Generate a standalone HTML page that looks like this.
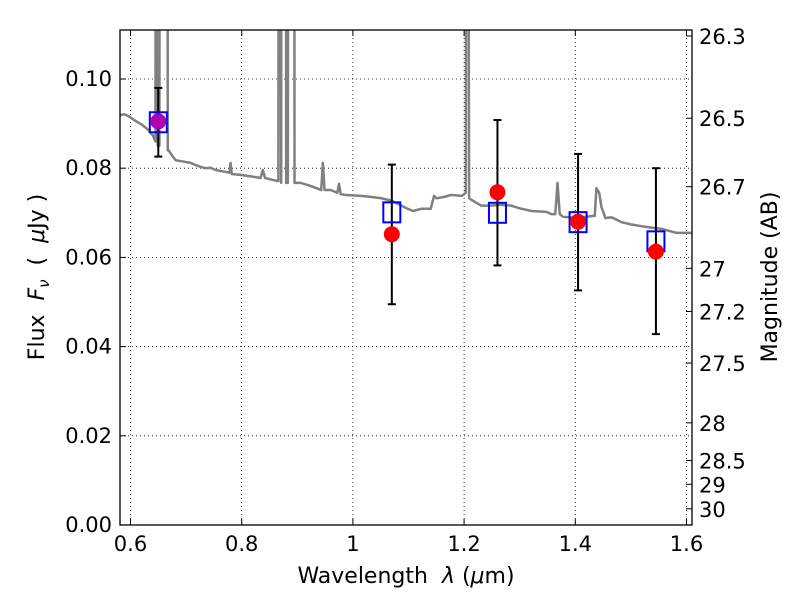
<!DOCTYPE html>
<html><head><meta charset="utf-8"><style>
body{margin:0;background:#fff;}
svg text{font-family:"DejaVu Sans","Liberation Sans",sans-serif;fill:#000;white-space:pre;}
</style></head><body>
<svg id="chart" width="800" height="600" xmlns="http://www.w3.org/2000/svg">
<rect x="0" y="0" width="800" height="600" fill="#fff"/>
<defs><clipPath id="clip"><rect x="120" y="30" width="572" height="495"/></clipPath></defs>
<g id="grid"></g>
<g id="plot" clip-path="url(#clip)"></g>
<g id="marks"></g>
<rect x="120" y="30" width="572" height="495" fill="none" stroke="#000" stroke-width="1.3"/>
<g id="axes"></g>
<text x="406" y="583" font-size="22" text-anchor="middle" xml:space="preserve">Wavelength  <tspan font-style="italic">λ</tspan> (<tspan font-style="italic">μ</tspan>m)</text>
<text transform="translate(44,277) rotate(-90)" font-size="22" text-anchor="middle" xml:space="preserve">Flux  <tspan font-style="italic">F</tspan><tspan font-style="italic" font-size="15" dy="5">ν</tspan><tspan dy="-5">  (  </tspan><tspan font-style="italic">μ</tspan>Jy )</text>
<text transform="translate(777,277) rotate(-90)" font-size="22" text-anchor="middle">Magnitude (AB)</text>
</svg>
<script>
const xTicks=[0.6,0.8,1.0,1.2,1.4,1.6];
const xTickLabels=["0.6","0.8","1","1.2","1.4","1.6"];
const yTicks=[0,0.02,0.04,0.06,0.08,0.10];
const yTickLabels=["0.00","0.02","0.04","0.06","0.08","0.10"];
const magTicks=[26.3,26.5,26.7,27,27.2,27.5,28,28.5,29,30];
const magLabels=["26.3","26.5","26.7","27","27.2","27.5","28","28.5","29","30"];
const specWave=[0.582,0.589,0.596,0.602,0.609,0.620,0.632,0.640,0.645,0.6455,0.648,0.649,0.652,0.653,0.666,0.667,0.668,0.675,0.681,0.690,0.699,0.708,0.717,0.726,0.735,0.744,0.753,0.765,0.778,0.780,0.782,0.798,0.815,0.834,0.838,0.842,0.855,0.866,0.867,0.8675,0.871,0.872,0.879,0.880,0.883,0.884,0.894,0.895,0.899,0.900,0.906,0.920,0.933,0.943,0.946,0.949,0.960,0.972,0.975,0.978,0.987,1.000,1.014,1.030,1.050,1.070,1.086,1.097,1.108,1.123,1.140,1.146,1.150,1.153,1.165,1.177,1.196,1.203,1.205,1.209,1.212,1.231,1.249,1.265,1.285,1.300,1.321,1.348,1.357,1.364,1.368,1.372,1.378,1.390,1.402,1.432,1.435,1.438,1.443,1.447,1.451,1.454,1.465,1.483,1.500,1.519,1.535,1.555,1.582,1.612];
const specFlux=[0.0919,0.0921,0.0917,0.0912,0.0906,0.0898,0.0886,0.0874,0.086,0.3,0.3,0.085,0.085,0.3,0.3,0.084,0.0841,0.0828,0.0818,0.0816,0.0814,0.0812,0.0807,0.0803,0.0800,0.0801,0.0796,0.0793,0.0790,0.0812,0.0787,0.0785,0.0782,0.0778,0.0796,0.0778,0.0774,0.0771,0.3,0.3,0.0767,0.3,0.3,0.0767,0.0767,0.3,0.3,0.0767,0.0767,0.0767,0.0767,0.0762,0.0756,0.0751,0.0812,0.0751,0.0751,0.0745,0.0765,0.0742,0.0740,0.0739,0.0738,0.0736,0.0733,0.0727,0.0717,0.0710,0.0704,0.0709,0.0709,0.0738,0.0733,0.0733,0.0736,0.0740,0.0738,0.0745,0.3,0.0733,0.0730,0.0716,0.0716,0.0718,0.0716,0.0710,0.0704,0.0702,0.0697,0.0697,0.0767,0.0697,0.0691,0.0690,0.0688,0.0693,0.0693,0.0755,0.0745,0.0713,0.0700,0.0688,0.0690,0.0679,0.0674,0.0670,0.0667,0.0664,0.0655,0.0655];
const photWave=[0.65,1.07,1.26,1.405,1.545];
const photFlux=[0.0905,0.0652,0.0746,0.0680,0.0613];
const errLow=[0.0826,0.0495,0.0582,0.0526,0.0428];
const errHigh=[0.0980,0.0808,0.0908,0.0832,0.0800];
const modelFlux=[0.0903,0.0701,0.0700,0.0679,0.0636];

const NS="http://www.w3.org/2000/svg";
const X=v=>130.5+(v-0.6)*556;
const Y=v=>525-v*4460;
function mk(tag,attrs,parent){const e=document.createElementNS(NS,tag);for(const k in attrs)e.setAttribute(k,attrs[k]);document.getElementById(parent).appendChild(e);return e;}
xTicks.forEach((t,i)=>{
  const g=mk('line',{x1:X(t),x2:X(t),y1:30,y2:525,stroke:'#000','stroke-width':0.8,'stroke-dasharray':'1,3'},'grid');
  
  
  mk('line',{x1:X(t),x2:X(t),y1:525,y2:519,stroke:'#000'},'axes');
  mk('line',{x1:X(t),x2:X(t),y1:30,y2:36,stroke:'#000'},'axes');
  const tx=mk('text',{x:X(t),y:551,'font-size':21,'text-anchor':'middle'},'axes');
  tx.textContent=xTickLabels[i];
  
  
});
yTicks.forEach((t,i)=>{
  const g=mk('line',{x1:120,x2:692,y1:Y(t),y2:Y(t),stroke:'#000','stroke-width':0.8,'stroke-dasharray':'1,3'},'grid');
  
  
  mk('line',{x1:120,x2:126,y1:Y(t),y2:Y(t),stroke:'#000'},'axes');
  const tx=mk('text',{x:112,y:Y(t)+7,'font-size':21,'text-anchor':'end'},'axes');
  tx.textContent=yTickLabels[i];
  
  
});
magTicks.forEach((m,i)=>{
  const y=Y(Math.pow(10,(23.9-m)/2.5));
  mk('line',{x1:686,x2:692,y1:y,y2:y,stroke:'#000'},'axes');
  const tx=mk('text',{x:699,y:y+8,'font-size':21},'axes');
  tx.textContent=magLabels[i];
  
  
});
const sp=mk('polyline',{points:specWave.map((w,i)=>X(w)+','+Y(specFlux[i])).join(' '),fill:'none',stroke:'#808080','stroke-width':2.5,'stroke-linejoin':'round'},'plot');


photWave.forEach((w,i)=>{
  const x=X(w);
  const eb=mk('g',{},'marks');
  
  
  [[x,x,Y(errLow[i]),Y(errHigh[i])],[x-4,x+4,Y(errLow[i]),Y(errLow[i])],[x-4,x+4,Y(errHigh[i]),Y(errHigh[i])]].forEach(a=>{
    const l=document.createElementNS(NS,'line');
    l.setAttribute('x1',a[0]);l.setAttribute('x2',a[1]);l.setAttribute('y1',a[2]);l.setAttribute('y2',a[3]);
    l.setAttribute('stroke','#000');l.setAttribute('stroke-width',2);eb.appendChild(l);
  });
  const sq=mk('rect',{x:x-8.5,y:Y(modelFlux[i])-10,width:17,height:20,fill:'none',stroke:'#0000ff','stroke-width':2},'marks');
  
  
  const c=mk('circle',{cx:x,cy:Y(photFlux[i]),r:8,fill:i===0?'#b000b0':'#ff0000'},'marks');
  
  
});
</script>
</body></html>
